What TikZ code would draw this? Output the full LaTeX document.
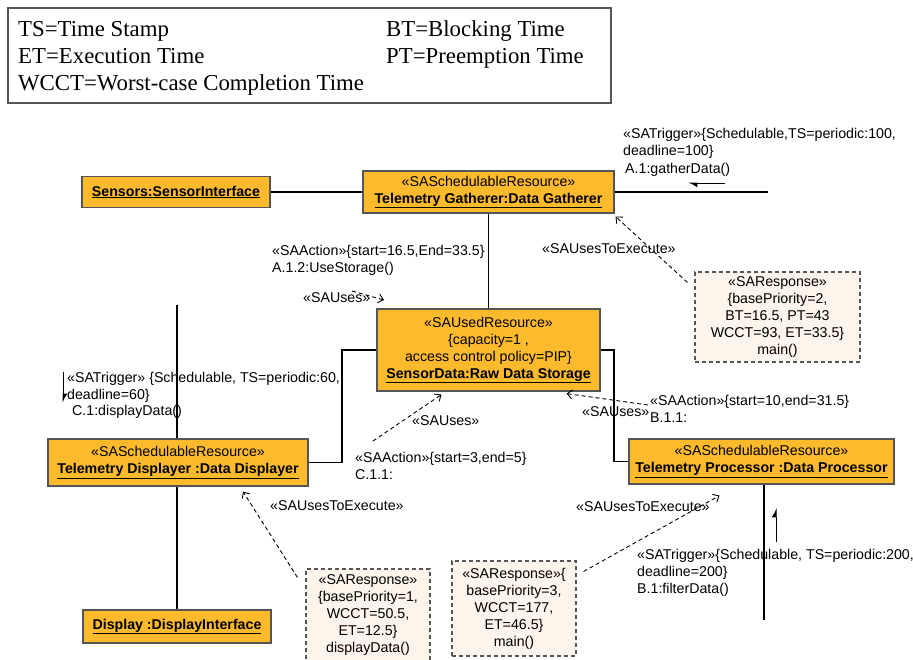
\documentclass[tikz,border=0pt]{standalone}
\usepackage{fontspec}
\setmainfont{Liberation Serif}
\setsansfont{Liberation Sans}
\usetikzlibrary{arrows.meta,backgrounds}
\definecolor{boxor}{RGB}{252,186,44}
\definecolor{boxline}{RGB}{85,85,85}
\definecolor{respfill}{RGB}{253,244,236}
\begin{document}
\begin{tikzpicture}[x=1pt,y=-1pt,
  font=\sffamily\fontsize{14.2}{17}\selectfont,
  res/.style={draw=boxline, line width=1.1pt, fill=boxor, inner sep=0pt, align=center},
  resp/.style={draw=boxline, dash pattern=on 4pt off 3pt, line width=1.1pt, fill=respfill, inner sep=0pt, align=center},
  conn/.style={line width=1.2pt, draw=black},
  usedep/.style={draw=black, dash pattern=on 4pt off 3pt, line width=0.9pt, -{Straight Barb[length=5pt,width=9pt]}},
  msg/.style={draw=black, line width=1pt, -{Latex[left,length=8pt,width=9pt]}},
  lbl/.style={anchor=west, inner sep=0pt, align=left},
  legendtxt/.style={font=\rmfamily\fontsize{22.8}{27}\selectfont, anchor=base west, inner sep=0pt}]
\useasboundingbox (0,0) rectangle (913,659);

% legend
\node[draw=boxline, line width=1.2pt, minimum width=603pt, minimum height=95pt, inner sep=0pt] (legend) at (309.5,55.5) {};
\node[legendtxt] (lts) at (18,36) {TS=Time Stamp};
\node[legendtxt] (lbt) at (386,36) {BT=Blocking Time};
\node[legendtxt] (let) at (18,63) {ET=Execution Time};
\node[legendtxt] (lpt) at (386,63) {PT=Preemption Time};
\node[legendtxt] (lwc) at (18,90) {WCCT=Worst-case Completion Time};

% resources
\node[res, minimum width=188pt, minimum height=31pt] (sens) at (176,192) {\textbf{\underline{Sensors:SensorInterface}}};
\node[res, minimum width=251pt, minimum height=42pt] (gath) at (488.5,192) {«SASchedulableResource»\\\textbf{\underline{Telemetry Gatherer:Data Gatherer}}};
\node[res, minimum width=223pt, minimum height=82pt] (sd) at (488.5,350) {«SAUsedResource»\\\{capacity=1 ,\\access control policy=PIP\}\\\textbf{\underline{SensorData:Raw Data Storage}}};
\node[res, minimum width=260pt, minimum height=47pt] (dl) at (178,462.5) {«SASchedulableResource»\\\textbf{\underline{Telemetry Displayer :Data Displayer}}};
\node[res, minimum width=265pt, minimum height=45pt] (pr) at (761.5,461.5) {«SASchedulableResource»\\\textbf{\underline{Telemetry Processor :Data Processor}}};
\node[res, minimum width=188pt, minimum height=33pt] (di) at (177,626.5) {\textbf{\underline{Display :DisplayInterface}}};

% responses
\node[resp, minimum width=165pt, minimum height=90pt] (ra) at (777.5,317) {«SAResponse»\\\{basePriority=2,\\BT=16.5, PT=43\\WCCT=93, ET=33.5\}\\main()};
\node[resp, minimum width=124pt, minimum height=93pt] (rc) at (368,615.5) {«SAResponse»\\\{basePriority=1,\\WCCT=50.5,\\ET=12.5\}\\displayData()};
\node[resp, minimum width=124pt, minimum height=95pt] (rb) at (514,608.5) {«SAResponse»\{\\basePriority=3,\\WCCT=177,\\ET=46.5\}\\main()};

% labels
\node[lbl] (trigA) at (623,143.5) {«SATrigger»\{Schedulable,TS=periodic:100,\\deadline=100\}};
\node[lbl] (callA) at (625,170) {A.1:gatherData()};
\node[lbl] (uteA) at (542,249) {«SAUsesToExecute»};
\node[lbl] (actA) at (272,260.5) {«SAAction»\{start=16.5,End=33.5\}\\A.1.2:UseStorage()};
\node[lbl] (usesA) at (303,298) {«SAUses»};
\node[lbl] (trigC) at (67,387) {«SATrigger» \{Schedulable, TS=periodic:60,\\deadline=60\}};
\node[lbl] (callC) at (72,412) {C.1:displayData()};
\node[lbl] (usesC) at (412,421) {«SAUses»};
\node[lbl] (actC) at (355,465.5) {«SAAction»\{start=3,end=5\}\\C.1.1:};
\node[lbl] (actB) at (650,409) {«SAAction»\{start=10,end=31.5\}\\B.1.1:};
\node[lbl] (usesB) at (582,412) {«SAUses»};
\node[lbl] (uteC) at (270,506) {«SAUsesToExecute»};
\node[lbl] (uteB) at (576,507) {«SAUsesToExecute»};
\node[lbl] (trigB) at (637,573) {«SATrigger»\{Schedulable, TS=periodic:200,\\deadline=200\}\\B.1:filterData()};

% free ends
\coordinate (gathEnd) at (768,192);
\coordinate (dlTop) at (177,305);
\coordinate (jl) at (342,350);
\coordinate (jr) at (614,350);
\coordinate (prEnd) at (764,620);
\coordinate (mAs) at (725,183);
\coordinate (mAe) at (688,183);
\coordinate (mCs) at (63,372);
\coordinate (mCe) at (63,403);
\coordinate (mBs) at (776,542);
\coordinate (mBe) at (776,508);
\coordinate (uAs) at (352,291);
\coordinate (uAe) at (384,300);
\coordinate (uCs) at (373,441);
\coordinate (uBs) at (648,405);

\begin{scope}[on background layer]
\draw[conn] (sens.east) -- (gath.west);
\draw[conn] (gath.east) -- (gathEnd);
\draw[conn] (gath.south) -- (sd.north);
\draw[conn] (dlTop) -- (dlTop |- dl.north);
\draw[conn] (dlTop |- dl.south) -- (dlTop |- di.north);
\draw[conn] (dl.east) -| (jl) -- (sd.west);
\draw[conn] (sd.east) -- (jr) |- (pr.west);
\draw[conn] (prEnd |- pr.south) -- (prEnd);
\end{scope}

\draw[msg] (mAs) -- (mAe);
\draw[msg] (mCs) -- (mCe);
\draw[msg] (mBs) -- (mBe);

\draw[usedep] ([shift={(-7,11)}]ra.north west) -- ([shift={(1,3)}]gath.south east);
\draw[usedep] (uAs) -- (uAe);
\draw[usedep] (uCs) -- ([shift={(65,3)}]sd.south west);
\draw[usedep] (uBs) -- ([shift={(-34,2)}]sd.south east);
\draw[usedep] ([shift={(-8,9)}]rc.north west) -- ([shift={(65,5)}]dl.south);
\draw[usedep] ([shift={(7,11)}]rb.north east) -- ([shift={(-42,11)}]pr.south);
\end{tikzpicture}
\end{document}
